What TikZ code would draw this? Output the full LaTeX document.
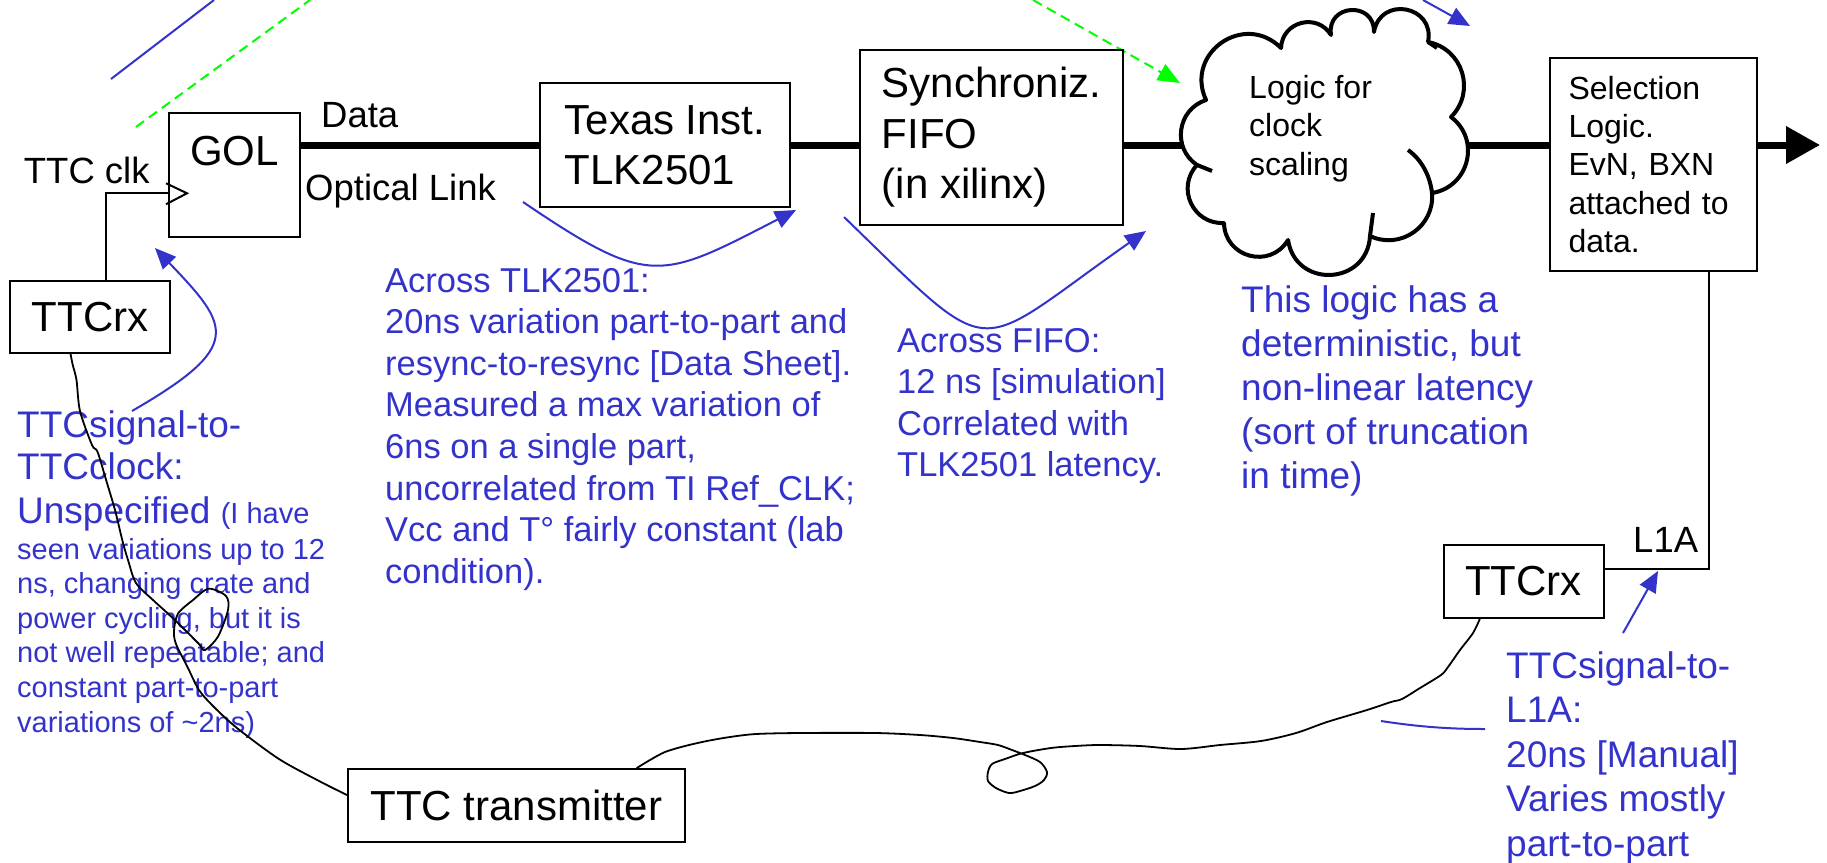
\documentclass[tikz,border=0pt]{standalone}
\usepackage{fontspec}
\setmainfont{Liberation Sans}
\usetikzlibrary{arrows.meta,calc}
\definecolor{noteblue}{RGB}{51,51,204}
\definecolor{linkgreen}{RGB}{0,255,0}

\begin{document}
\begin{tikzpicture}[x=1pt, y=-1pt,
  box/.style={draw, line width=2pt, fill=white, inner sep=0pt, align=left,
              font=\fontsize{42}{50.4}\selectfont},
  lbl/.style={inner sep=0pt, anchor=base west, font=\fontsize{36.5}{44}\selectfont},
  note/.style={inner sep=0pt, anchor=base west, text=noteblue},
  note37/.style={note, font=\fontsize{37}{44}\selectfont},
  note34/.style={note, font=\fontsize{34.5}{41.6}\selectfont},
  note29/.style={note, font=\fontsize{29}{34.6}\selectfont},
  bus/.style={line width=7pt},
  wire/.style={line width=2pt},
  fiber/.style={line width=1.8pt, line join=round, line cap=round},
  pointer/.style={draw=noteblue, line width=2pt},
  bluetip/.style={-{Triangle[length=21pt,width=18pt]}},
  greendash/.style={draw=linkgreen, line width=2pt, dash pattern=on 10pt off 6pt},
  cloudline/.style={line width=4pt, line join=round},
]
\useasboundingbox (0,0) rectangle (1827,862);

% stray strokes along the top edge
\draw[pointer] (111,79) -- (214,0);
\draw[greendash] (136,127) -- (310,0);
\draw[greendash, -{Triangle[length=22pt,width=18pt]}] (1033,0) -- (1180,83);
\draw[pointer, bluetip] (1423,0) -- (1470,26);

% blocks of the data path
\node[box, minimum width=131pt, minimum height=124pt, text height=30pt, text depth=50pt]
  (gol) at (234.5,175) {GOL};
\node[box, minimum width=250pt, minimum height=124pt] (texas) at (665,145) {Texas Inst.\\TLK2501};
\node[box, minimum width=263pt, minimum height=175pt] (sync) at (991.5,137.5) {Synchroniz.\\FIFO\\(in xilinx)};
\node[box, minimum width=207pt, minimum height=213pt, text width=170pt, font=\fontsize{32}{38.2}\selectfont]
  (sel) at (1653.5,164.5) {Selection\\Logic.\\EvN, BXN\\attached to\\data.};
\node[box, minimum width=160pt, minimum height=72pt] (ttcrxL) at (90,317) {TTCrx};
\node[box, minimum width=160pt, minimum height=73pt] (ttcrxR) at (1523.5,581.5) {TTCrx};
\node[box, minimum width=337pt, minimum height=73pt] (ttctx) at (516.5,805.5) {TTC transmitter};

% clock-scaling cloud: one circular-ish puff between consecutive dents
\draw[cloudline, fill=white]
  (1206,100) .. controls (1184.3,52.9) and (1244.5,11.2) .. (1281,48)
  .. controls (1282.1,21.4) and (1317,12.3) .. (1331,35)
  .. controls (1326.1,3.9) and (1374.6,0.5) .. (1374,32)
  .. controls (1380.1,-4.7) and (1435.4,5.5) .. (1428,42)
  .. controls (1463,48.8) and (1476.1,91.8) .. (1451,117)
  .. controls (1481,139.6) and (1469.1,187.1) .. (1432,193)
  .. controls (1434.8,226.4) and (1400.3,250.3) .. (1370,236)
  .. controls (1367.2,285.5) and (1295.6,289) .. (1288,240)
  .. controls (1270.2,269.7) and (1224.7,257.6) .. (1224,223)
  .. controls (1193,224.6) and (1175.8,187.7) .. (1197,165)
  .. controls (1171.8,148) and (1177.1,109.5) .. (1206,100) -- cycle;
% inner ends of the puffs
\draw[cloudline] (1408,150) .. controls (1422,160) and (1430,176) .. (1432,193);
\draw[cloudline] (1370,236) -- (1373,213);
\draw[cloudline] (1197,165) -- (1212,171);
\draw[cloudline] (1428,42) -- (1437,48);
\node[inner sep=0pt, anchor=north west, align=left, font=\fontsize{32}{38.5}\selectfont]
  (cloudtxt) at (1249,75) {Logic for\\clock\\scaling};
\coordinate (cloudW) at (1182,145);
\coordinate (cloudE) at (1469,145);
\coordinate (busend) at (1820,145);

% data bus
\draw[bus] (gol.east |- texas.west) -- (texas.west);
\draw[bus] (texas.east) -- (sync.west |- texas.east);
\draw[bus] (sync.east |- texas.east) -- (cloudW);
\draw[bus] (cloudE) -- (sel.west |- texas.east);
\draw[bus, -{Triangle[length=34pt,width=36pt]}] (sel.east |- texas.east) -- (busend);

% clock input of the GOL
\coordinate (clkfoot) at ($(ttcrxL.north west)!0.6!(ttcrxL.north east)$);
\coordinate (clkin) at ($(gol.north west)!0.645!(gol.south west)$);
\draw[wire] (clkfoot) |- (clkin);
\draw[wire] ([shift={(-2,-10)}]clkin) -- ([shift={(19,0)}]clkin) -- ([shift={(-2,11)}]clkin);

% L1A line
\coordinate (l1atop) at ($(sel.south west)!0.765!(sel.south east)$);
\coordinate (l1ain) at ($(ttcrxR.north east)!0.33!(ttcrxR.south east)$);
\draw[wire] (l1atop) |- (l1ain);

% black labels
\node[lbl] (clklbl) at (23.7,183) {TTC clk};
\node[lbl] (datalbl) at (321,127) {Data};
\node[lbl] (optlbl) at (305,200) {Optical Link};
\node[lbl] (l1albl) at (1633,552) {L1A};

% blue notes
\node[note37] (ln1) at (17,437.5) {TTCsignal-to-};
\node[note37] (ln2) at (17,479.6) {TTCclock:};
\node[note37] (ln3) at (17,523.6) {Unspecified {\fontsize{29}{34.6}\selectfont (I have}};
\foreach \ln [count=\i] in {seen variations up to 12, {ns, changing crate and},
    {power cycling, but it is}, not well repeatable; and, constant part-to-part,
    variations of \textasciitilde2ns)}
  \node[note29] (lns\i) at ({17},{559+34.6*(\i-1)}) {\ln};

\foreach \ln [count=\i] in {Across TLK2501:, 20ns variation part-to-part and,
    resync-to-resync [Data Sheet]., Measured a max variation of, {6ns on a single part,},
    uncorrelated from TI Ref\_CLK;, Vcc and T° fairly constant (lab, condition).}
  \node[note34] (tlk\i) at ({385},{292+41.6*(\i-1)}) {\ln};

\foreach \ln [count=\i] in {Across FIFO:, 12 ns [simulation], Correlated with, TLK2501 latency.}
  \node[note34] (fifo\i) at ({897},{352+41.6*(\i-1)}) {\ln};

\foreach \ln [count=\i] in {This logic has a, {deterministic, but}, non-linear latency,
    {(sort of truncation}, {in time)}}
  \node[note37] (lat\i) at ({1241},{312+44*(\i-1)}) {\ln};

\foreach \ln [count=\i] in {TTCsignal-to-, L1A:, 20ns [Manual], Varies mostly, part-to-part}
  \node[note37] (l1a\i) at ({1506},{678+44.5*(\i-1)}) {\ln};

% TTC fibres
\coordinate (f1s) at ($(ttcrxL.south west)!0.38!(ttcrxL.south east)$);
\coordinate (f1e) at ($(ttctx.north west)!0.36!(ttctx.south west)$);
\draw[fiber] plot[smooth, tension=0.5] coordinates {(f1s) (72.7,364.8) (76.5,380) (80,411)
  (92,445) (97.6,452) (107,483) (115,510) (122.5,541) (128,560) (136,583) (153,600)
  (168,613.6) (184,629) (199,644) (205,650) (218,636.5) (228,610) (226,596) (208.6,588.7)
  (193,600) (178,613.6) (174,630.8) (176,644) (187.5,667) (199,690) (214,707) (237,728)
  (279,759) (321,782) (f1e)};

\coordinate (f2s) at ($(ttctx.north west)!0.855!(ttctx.north east)$);
\coordinate (f2e) at ($(ttcrxR.south west)!0.23!(ttcrxR.south east)$);
\draw[fiber] plot[smooth, tension=0.5] coordinates {(f2s) (650,760) (665,752) (685,746)
  (707,741) (730,737) (756,734) (800,733) (875,733) (920,735) (953,738) (980,742)
  (998,745) (1012,750) (1025,755) (1040,762) (1047,772) (1044,780) (1035,786) (1020,791)
  (1009,793) (996,788) (988,781) (988,772) (992,764) (1005,759) (1023,753) (1051,748)
  (1075,746) (1100,745) (1140,746) (1181,749) (1220,745) (1261,741) (1296,733) (1327,722)
  (1367,710) (1391,702) (1402,699) (1420,688) (1441,675) (1448,667) (1460,650) (1473,633)
  (f2e)};

% blue pointers
\coordinate (p1s) at (132,411);  \coordinate (p1e) at (155,248);
\draw[pointer, bluetip] (p1s) .. controls (244.6,346) and (230,326.5) .. (p1e);
\coordinate (p2s) at (523,202);  \coordinate (p2e) at (796,210);
\draw[pointer, bluetip] (p2s) .. controls (650,288) and (660,280) .. (p2e);
\coordinate (p3s) at (844,217);  \coordinate (p3e) at (1146,231);
\draw[pointer, bluetip] (p3s) .. controls (999,367) and (969,355) .. (p3e);
\coordinate (p4s) at (1623,633); \coordinate (p4e) at (1658,571);
\draw[pointer, bluetip] (p4s) -- (p4e);
\coordinate (p5s) at (1381,721); \coordinate (p5e) at (1485,729);
\draw[pointer] (p5s) .. controls (1420,727) and (1450,729) .. (p5e);
\end{tikzpicture}
\end{document}
